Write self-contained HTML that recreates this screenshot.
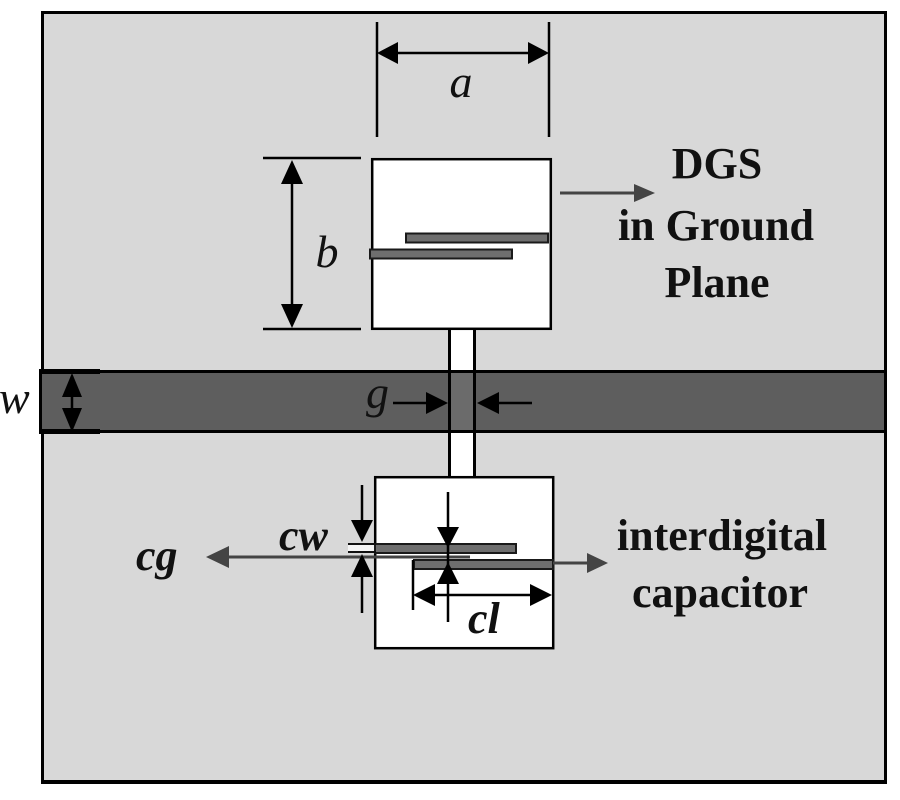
<!DOCTYPE html>
<html><head><meta charset="utf-8"><style>
html,body{margin:0;padding:0;background:#fff;}
svg{display:block;}
.it{font-family:"Liberation Serif",serif;font-style:italic;font-size:46px;fill:#111;}
.bi{font-family:"Liberation Serif",serif;font-style:italic;font-weight:bold;font-size:44px;fill:#111;}
.bd{font-family:"Liberation Serif",serif;font-weight:bold;font-size:44px;fill:#111;}
</style></head><body>
<svg width="900" height="800" viewBox="0 0 900 800" xmlns="http://www.w3.org/2000/svg">
<rect x="0" y="0" width="900" height="800" fill="#fff"/>
<!-- outer box -->
<rect x="41" y="11" width="846" height="773" fill="#000"/>
<rect x="44" y="14" width="840" height="766" fill="#d8d8d8"/>

<!-- microstrip band -->
<rect x="39" y="370" width="848" height="63" fill="#000"/>
<rect x="42" y="373" width="842" height="57" fill="#5e5e5e"/>
<!-- w extension lines -->
<rect x="39" y="369" width="61" height="5" fill="#000"/>
<rect x="39" y="429" width="61" height="5" fill="#000"/>
<line x1="72" y1="376" x2="72" y2="430" stroke="#000" stroke-width="2.5"/>
<polygon points="72,373 62,397 82,397" fill="#000"/>
<polygon points="72,432 62,408 82,408" fill="#000"/>
<text class="it" x="-1" y="413">w</text>

<!-- stub -->
<rect x="448" y="329" width="28" height="148" fill="#000"/>
<rect x="451" y="329" width="22" height="147" fill="#fff"/>
<rect x="451" y="373" width="22" height="57" fill="#6b6b6b"/>
<rect x="448" y="370" width="28" height="3" fill="#000"/>
<rect x="448" y="430" width="28" height="3" fill="#000"/>

<!-- g dimension -->
<text class="it" x="366" y="408">g</text>
<line x1="393" y1="403" x2="430" y2="403" stroke="#000" stroke-width="2.5"/>
<polygon points="448,403 426,392 426,414" fill="#000"/>
<line x1="495" y1="403" x2="532" y2="403" stroke="#000" stroke-width="2.5"/>
<polygon points="477,403 499,392 499,414" fill="#000"/>

<!-- top DGS box -->
<rect x="372.2" y="159.2" width="178.6" height="169.6" fill="#fff" stroke="#000" stroke-width="2.5"/>
<rect x="406" y="233.5" width="142" height="9" fill="#6e6e6e" stroke="#1a1a1a" stroke-width="2"/>
<rect x="370" y="249.5" width="142" height="9" fill="#6e6e6e" stroke="#1a1a1a" stroke-width="2"/>

<!-- a dimension -->
<line x1="377" y1="22" x2="377" y2="137" stroke="#000" stroke-width="2.5"/>
<line x1="549" y1="22" x2="549" y2="137" stroke="#000" stroke-width="2.5"/>
<line x1="390" y1="53" x2="536" y2="53" stroke="#000" stroke-width="2.5"/>
<polygon points="377,53 398,42 398,64" fill="#000"/>
<polygon points="549,53 528,42 528,64" fill="#000"/>
<text class="it" x="461" y="97" text-anchor="middle">a</text>

<!-- b dimension -->
<line x1="263" y1="158" x2="361" y2="158" stroke="#000" stroke-width="2.5"/>
<line x1="263" y1="329" x2="361" y2="329" stroke="#000" stroke-width="2.5"/>
<line x1="292" y1="170" x2="292" y2="318" stroke="#000" stroke-width="2.5"/>
<polygon points="292,160 281,184 303,184" fill="#000"/>
<polygon points="292,328 281,304 303,304" fill="#000"/>
<text class="it" x="327" y="267" text-anchor="middle">b</text>

<!-- DGS arrow and text -->
<line x1="560" y1="193" x2="640" y2="193" stroke="#444" stroke-width="3"/>
<polygon points="655,193 634,184 634,202" fill="#444"/>
<text class="bd" x="717" y="178" text-anchor="middle">DGS</text>
<text class="bd" x="716" y="240" text-anchor="middle">in Ground</text>
<text class="bd" x="717" y="297" text-anchor="middle">Plane</text>

<!-- lower box -->
<rect x="375.2" y="477.2" width="178" height="171" fill="#fff" stroke="#000" stroke-width="2.5"/>

<!-- cg arrow (behind slots) -->
<line x1="222" y1="557" x2="470" y2="557" stroke="#444" stroke-width="3"/>
<polygon points="206,557 229,546 229,568" fill="#444"/>
<text class="bi" x="136" y="570">cg</text>

<!-- slots -->
<rect x="375" y="544" width="141" height="9" fill="#6e6e6e" stroke="#1a1a1a" stroke-width="2"/>
<rect x="414" y="560" width="139" height="9" fill="#6e6e6e" stroke="#1a1a1a" stroke-width="2"/>
<!-- cw extension lines -->
<rect x="348" y="545" width="26" height="6" fill="#f4f4f4"/>
<line x1="348" y1="544" x2="376" y2="544" stroke="#111" stroke-width="2"/>
<line x1="348" y1="552" x2="376" y2="552" stroke="#111" stroke-width="2"/>

<!-- cw dimension -->
<line x1="362" y1="485" x2="362" y2="530" stroke="#000" stroke-width="2.5"/>
<line x1="362" y1="565" x2="362" y2="613" stroke="#000" stroke-width="2.5"/>
<polygon points="362,542 351,520 373,520" fill="#000"/>
<polygon points="362,554 351,577 373,577" fill="#000"/>
<text class="bi" x="279" y="550">cw</text>

<!-- gap dimension -->
<line x1="448" y1="492" x2="448" y2="622" stroke="#000" stroke-width="2.5"/>
<polygon points="448,548 437,527 459,527" fill="#000"/>
<polygon points="448,562 437,584 459,584" fill="#000"/>

<!-- cl dimension -->
<line x1="413" y1="560" x2="413" y2="610" stroke="#000" stroke-width="2.5"/>
<line x1="425" y1="595" x2="540" y2="595" stroke="#000" stroke-width="2.5"/>
<polygon points="413,595 435,584 435,606" fill="#000"/>
<polygon points="552,595 530,584 530,606" fill="#000"/>
<text class="bi" x="468" y="633">cl</text>

<!-- interdigital arrow and text -->
<line x1="553" y1="563" x2="592" y2="563" stroke="#444" stroke-width="3"/>
<polygon points="608,563 587,553 587,573" fill="#444"/>
<text class="bd" x="722" y="550" text-anchor="middle">interdigital</text>
<text class="bd" x="720" y="607" text-anchor="middle">capacitor</text>
</svg>
</body></html>
